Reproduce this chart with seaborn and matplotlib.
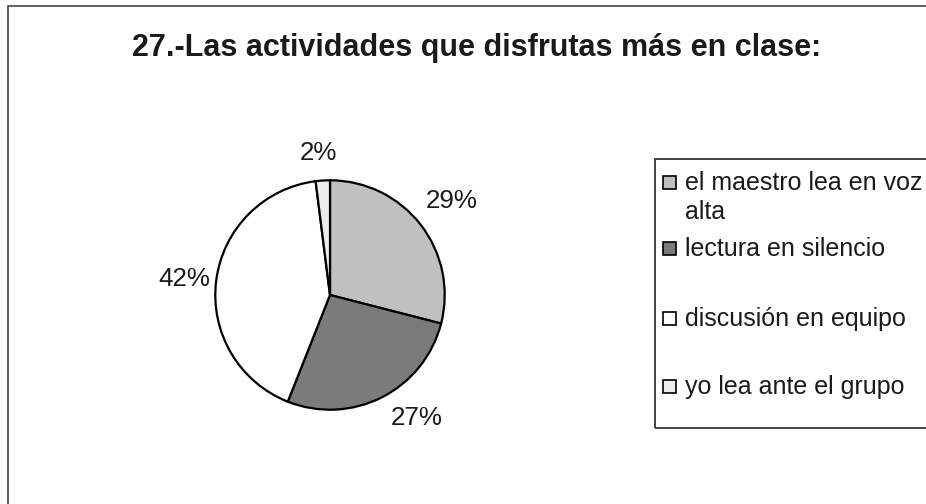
import matplotlib
matplotlib.use("Agg")
import numpy as np
import matplotlib.pyplot as plt
from matplotlib.patches import Rectangle
import seaborn as sns

# data
categories = ["el maestro lea en voz\nalta", "lectura en silencio",
              "discusión en equipo", "yo lea ante el grupo"]
shares = [29, 27, 42, 2]
slice_colors = ["#c0c0c0", "#7b7b7b", "#ffffff", "#ececec"]
title = "27.-Las actividades que disfrutas más en clase:"

# label placement (radius in pie units, extra angle in degrees), Excel-ish
label_radius = [1.34, 1.31, 1.28, 1.24]
label_turn = [0, 8, 1, 1]

sns.set_theme(style="white")
plt.rcParams["font.family"] = ["Liberation Sans", "DejaVu Sans"]

W, H = 926, 504
fig = plt.figure(figsize=(W / 100, H / 100), dpi=100)
fig.patch.set_facecolor("white")

# pie axes: centre ~(330, 295) px, radius ~117 px
cx, cy, r = 330, 295, 117
ax = fig.add_axes([(cx - r) / W, (H - cy - r) / H, 2 * r / W, 2 * r / H])
wedges, texts, autotexts = ax.pie(
    shares, colors=slice_colors, startangle=90, counterclock=False,
    autopct="%1.0f%%", pctdistance=1.28, radius=1,
    wedgeprops=dict(edgecolor="black", linewidth=1.6),
    textprops=dict(fontsize=18.7, color="#1a1a1a"))
for w, t, rad, turn in zip(wedges, autotexts, label_radius, label_turn):
    ang = np.deg2rad((w.theta1 + w.theta2) / 2 + turn)
    t.set_position((rad * np.cos(ang), rad * np.sin(ang)))
ax.set_xlim(-1.02, 1.02)
ax.set_ylim(-1.02, 1.02)
ax.set_aspect("equal")
ax.axis("off")

fig.text(477 / W, 1 - 48 / H, title, ha="center", va="center",
         fontsize=22, fontweight="bold", color="#1a1a1a")

# outer chart frame (runs off the right/bottom edges)
fig.add_artist(Rectangle((8 / W, -0.05), 1.1, 1 - 6 / H + 0.05,
                         transform=fig.transFigure, fill=False,
                         edgecolor="#555555", linewidth=1.3))

# legend box, Excel style, clipped at the right edge
fig.add_artist(Rectangle((655 / W, 1 - 428 / H), 0.5, (428 - 159) / H,
                         transform=fig.transFigure, fill=False,
                         edgecolor="#333333", linewidth=1.3))
legend_rows = [184, 250, 320, 388]
for lab, col, yy in zip(categories, slice_colors, legend_rows):
    fig.add_artist(Rectangle((663 / W, 1 - (yy + 5) / H), 13 / W, 13 / H,
                             transform=fig.transFigure, facecolor=col,
                             edgecolor="black", linewidth=1.2))
    fig.text(685 / W, 1 - (yy - 13) / H, lab, ha="left", va="top",
             fontsize=18, color="#1a1a1a", linespacing=1.25)

fig.savefig("out.png", dpi=100)
